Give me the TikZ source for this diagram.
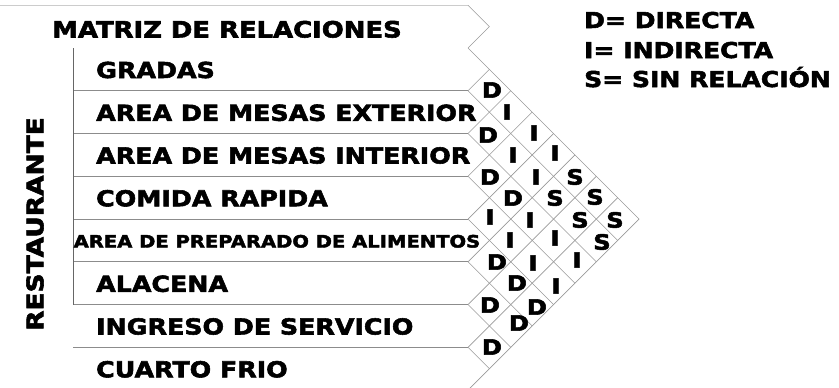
\documentclass[tikz,border=0pt]{standalone}
\usepackage{fontspec}
\newfontfamily\wf{DejaVu Sans}[FakeStretch=1.15,FakeBold=2.5]
\begin{document}
\begin{tikzpicture}[x=1pt,y=-1pt,
  rowlbl/.style={anchor=base west, inner sep=0pt, font=\wf\bfseries\fontsize{22}{26}\selectfont},
  smalllbl/.style={anchor=base west, inner sep=0pt, font=\wf\bfseries\fontsize{17}{20}\selectfont},
  titlelbl/.style={anchor=base west, inner sep=0pt, font=\wf\bfseries\fontsize{22.5}{26}\selectfont},
  legendlbl/.style={anchor=base west, inner sep=0pt, font=\wf\bfseries\fontsize{21.8}{26}\selectfont},
  cell/.style={anchor=center, inner sep=0pt, font=\wf\bfseries\fontsize{21}{24}\selectfont},
  rowline/.style={draw=black!45, line width=0.8pt},
  topline/.style={draw=black!20, line width=0.8pt},
  sideline/.style={draw=black!60, line width=0.8pt},
  gridline/.style={draw=black!40, line width=0.7pt}]
\useasboundingbox (0,0) rectangle (839,388);
% header line and chevron
\draw[topline] (0,5.25) -- (468,5.25);
\draw[gridline] (468,5.25) -- (489.375,26.625) -- (468,48);
% row lines
\foreach \k in {1,...,7}{
  \pgfmathsetmacro{\yy}{48+42.75*\k}
  \draw[rowline] (73,\yy) -- (468,\yy);
}
\draw[sideline] (73,48) -- (73,304.5);
% diamond grid
\foreach \k in {0,...,8}{
  \pgfmathsetmacro{\yy}{48+42.75*\k}
  \pgfmathsetmacro{\td}{(390-\yy)/2}
  \pgfmathsetmacro{\tu}{(\yy-48)/2}
  \draw[gridline] (468,\yy) -- ++(\td,\td);
  \draw[gridline] (468,\yy) -- ++(\tu,-\tu);
}
% title and labels
\node[titlelbl] (title) at (52,37.5) {MATRIZ DE RELACIONES};
\node[rowlbl] (r1) at (96,78) {GRADAS};
\node[rowlbl] (r2) at (96,120.8) {AREA DE MESAS EXTERIOR};
\node[rowlbl] (r3) at (96,163.5) {AREA DE MESAS INTERIOR};
\node[rowlbl] (r4) at (96,206.3) {COMIDA RAPIDA};
\node[smalllbl] (r5) at (73.5,247.5) {AREA DE PREPARADO DE ALIMENTOS};
\node[rowlbl] (r6) at (96,291.8) {ALACENA};
\node[rowlbl] (r7) at (96,334.5) {INGRESO DE SERVICIO};
\node[rowlbl] (r8) at (96,377.3) {CUARTO FRIO};
\node[inner sep=0pt, rotate=90, font=\wf\bfseries\fontsize{23}{26}\selectfont] (rest) at (35,224) {RESTAURANTE};
% legend
\node[legendlbl] (l1) at (584,28) {D= DIRECTA};
\node[legendlbl] (l2) at (584,58) {I= INDIRECTA};
\node[legendlbl] (l3) at (584,87) {S= SIN RELACIÓN};
% matrix letters
\foreach \x/\y/\t [count=\n] in {
  492/90/D, 507/112/I, 488/135/D, 534/133/I, 513/155/I, 555/153/I,
  490/177/D, 536/177/I, 575/177/S, 513/198/D, 555/198/S, 595/197/S,
  490/217/I, 530/220/I, 580/220/S, 615/220/S, 510/240/I, 555/238/I,
  602/242/S, 497/262/D, 533/263/I, 577/260/I, 517/283/D, 556/286/I,
  490/305/D, 537/307/D, 519/323/D, 492/347/D}{
  \node[cell] (c\n) at (\x,\y) {\t};
}
\end{tikzpicture}
\end{document}
